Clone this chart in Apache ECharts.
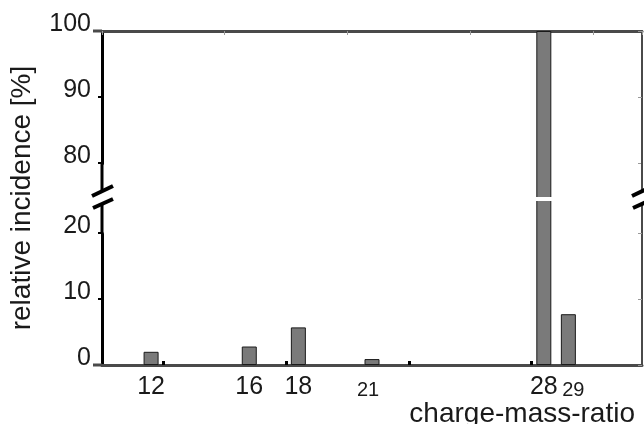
<!DOCTYPE html>
<html>
<head>
<meta charset="utf-8">
<script src="https://cdn.jsdelivr.net/npm/echarts@6/dist/echarts.min.js"></script>
<style>
html,body{margin:0;padding:0;background:#fff}
#main{width:644px;height:424px}
</style>
</head>
<body>
<div id="main"></div>
<script>
// charge-mass-ratio and relative incidence
var massRatios = [12, 16, 18, 21, 28, 29];
var incidence = [2.0, 2.8, 5.7, 0.9, 100, 7.7];
// tick labels on the bottom axis, some printed smaller
var xLabelValues = [12, 16, 18, 21, 28, 29];
var smallLabels = [21, 29];
// little black ticks on the bottom axis
var bottomTicks = [12.5, 17.5, 22.5, 27.5];
// broken y range
var yBreak = [20, 80];

var bigLabels = xLabelValues.filter(function (v) { return smallLabels.indexOf(v) < 0; });

var font = '"Liberation Sans", Arial, Helvetica, sans-serif';
var textColor = '#1a1a1a';
var frameColor = '#4a4a4a';

var chart = echarts.init(document.getElementById('main'));

var barData = [];
for (var i = 0; i < massRatios.length; i++) {
  barData.push([massRatios[i], incidence[i]]);
}

var yCommon = {
  type: 'value',
  min: 0,
  max: 100,
  interval: 10,
  breaks: [{start: yBreak[0], end: yBreak[1], gap: '21%'}],
  breakArea: {show: false},
  splitLine: {show: false}
};

var gridBox = {left: 102, right: 2, top: 31, bottom: 59, outerBoundsMode: 'none', containLabel: false};

var option = {
  animation: false,
  textStyle: {fontFamily: font},
  // second grid only carries the small tick labels (they would collide with the big ones)
  grid: [Object.assign({}, gridBox), Object.assign({}, gridBox)],
  xAxis: [{
    type: 'value',
    gridIndex: 0,
    position: 'bottom',
    min: 10,
    max: 32,
    axisLine: {onZero: false, lineStyle: {color: frameColor, width: 3}},
    axisTick: {show: true, inside: true, length: 4, customValues: bottomTicks, lineStyle: {color: '#000', width: 3}},
    axisLabel: {customValues: bigLabels, hideOverlap: false, margin: 10, color: textColor, fontSize: 25, lineHeight: 25},
    splitLine: {show: false},
    name: 'charge-mass-ratio',
    nameLocation: 'end',
    nameGap: -7,
    nameMoveOverlap: false,
    nameTextStyle: {fontSize: 28, color: textColor, align: 'right', verticalAlign: 'top', lineHeight: 28, padding: [35, 0, 0, 0]}
  }, {
    type: 'value',
    gridIndex: 0,
    position: 'top',
    min: 10,
    max: 32,
    interval: 5,
    axisLine: {onZero: false, lineStyle: {color: frameColor, width: 3}},
    axisTick: {show: true, inside: true, length: 4, lineStyle: {color: '#999', width: 1}},
    axisLabel: {show: false},
    splitLine: {show: false}
  }, {
    type: 'value',
    gridIndex: 1,
    position: 'bottom',
    min: 10,
    max: 32,
    axisLine: {show: false, onZero: false},
    axisTick: {show: false},
    axisLabel: {
      customValues: smallLabels,
      hideOverlap: false,
      margin: 15,
      color: textColor,
      formatter: function (v) {
        // in the figure 21 sits a bit left of its bar, 29 a bit right
        return v === smallLabels[0] ? '{l|' + v + '}' : '{r|' + v + '}';
      },
      rich: {
        l: {fontSize: 20, lineHeight: 20, color: textColor, fontFamily: font, padding: [0, 8, 0, 0]},
        r: {fontSize: 20, lineHeight: 20, color: textColor, fontFamily: font, padding: [0, 0, 0, 10]}
      }
    },
    splitLine: {show: false}
  }],
  yAxis: [Object.assign({}, yCommon, {
    gridIndex: 0,
    position: 'left',
    axisLine: {show: true, onZero: false, lineStyle: {color: '#000', width: 3}},
    axisTick: {show: true, length: 4, lineStyle: {color: '#000', width: 2}},
    axisLabel: {fontSize: 25, color: textColor, margin: 11, verticalAlign: 'bottom', lineHeight: 14},
    name: 'relative incidence [%]',
    nameLocation: 'middle',
    nameGap: 66,
    nameTextStyle: {fontSize: 28, color: textColor}
  }), Object.assign({}, yCommon, {
    gridIndex: 0,
    position: 'right',
    axisLine: {show: true, onZero: false, lineStyle: {color: frameColor, width: 2}},
    axisTick: {show: true, inside: true, length: 4, lineStyle: {color: '#999', width: 1}},
    axisLabel: {show: false}
  }), {
    type: 'value',
    gridIndex: 1,
    show: false
  }],
  series: [{
    type: 'bar',
    xAxisIndex: 0,
    yAxisIndex: 0,
    barWidth: 15,
    data: barData,
    itemStyle: {color: '#7a7a7a', borderColor: '#1a1a1a', borderWidth: 1}
  }]
};

chart.setOption(option);

// break marks, placed from the axis scales
var xL = chart.convertToPixel({xAxisIndex: 0}, 10);
var xR = chart.convertToPixel({xAxisIndex: 0}, 32);
var yLo = chart.convertToPixel({yAxisIndex: 0}, yBreak[0]);
var yHi = chart.convertToPixel({yAxisIndex: 0}, yBreak[1]);
var y0 = chart.convertToPixel({yAxisIndex: 0}, 0);
var y100 = chart.convertToPixel({yAxisIndex: 0}, 100);
var mid = (yLo + yHi) / 2;

function breakMark(x) {
  return [{
    type: 'polygon',
    shape: {points: [[x - 10, mid - 2], [x + 11, mid - 12], [x + 11, mid + 1], [x - 9, mid + 10]]},
    style: {fill: '#fff'},
    z: 100
  }, {
    type: 'line',
    shape: {x1: x - 10, y1: mid - 2, x2: x + 11, y2: mid - 12},
    style: {stroke: '#000', lineWidth: 4},
    z: 101
  }, {
    type: 'line',
    shape: {x1: x - 9, y1: mid + 10, x2: x + 11, y2: mid + 1},
    style: {stroke: '#000', lineWidth: 4},
    z: 101
  }];
}

var graphics = [{
  // axis lines run on through the break
  type: 'line',
  shape: {x1: xL, y1: yHi, x2: xL, y2: yLo},
  style: {stroke: '#000', lineWidth: 3},
  z: 50
}, {
  type: 'line',
  shape: {x1: xR, y1: yHi, x2: xR, y2: yLo},
  style: {stroke: frameColor, lineWidth: 2},
  z: 50
}, {
  type: 'rect',
  shape: {x: xL + 3, y: mid - 1, width: xR - xL - 6, height: 4},
  style: {fill: '#fff'},
  z: 99
}, {
  type: 'line',
  shape: {x1: xL - 9, y1: y0, x2: xL, y2: y0},
  style: {stroke: frameColor, lineWidth: 3},
  z: 50
}, {
  type: 'line',
  shape: {x1: xL - 9, y1: y100, x2: xL, y2: y100},
  style: {stroke: frameColor, lineWidth: 3},
  z: 50
}].concat(breakMark(xL)).concat(breakMark(xR));

chart.setOption({graphic: graphics});
</script>
</body>
</html>
